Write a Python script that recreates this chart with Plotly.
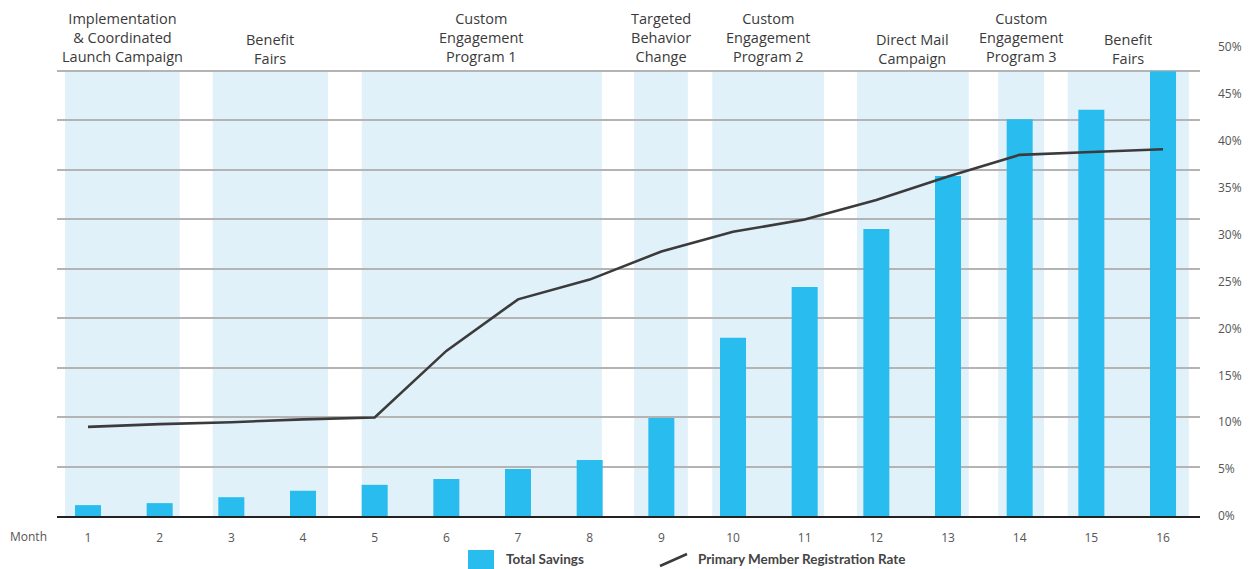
import plotly.graph_objects as go

# ---------------- data ----------------
months = list(range(1, 17))
month_labels = [str(m) for m in months]

# Total Savings (relative units, one unit = one gridline step)
total_savings = [0.22, 0.26, 0.38, 0.51, 0.63, 0.75, 0.95, 1.13,
                 1.98, 3.60, 4.63, 5.80, 6.87, 8.02, 8.21, 8.99]

# Primary Member Registration Rate (%)
registration_rate = [9.5, 9.8, 10.0, 10.3, 10.5, 17.6, 23.1, 25.2,
                     28.2, 30.3, 31.6, 33.7, 36.2, 38.5, 38.8, 39.1]

# Program phases (label, start month, end month)
phase_labels = [
    "Implementation<br>& Coordinated<br>Launch Campaign",
    "Benefit<br>Fairs",
    "Custom<br>Engagement<br>Program 1",
    "Targeted<br>Behavior<br>Change",
    "Custom<br>Engagement<br>Program 2",
    "Direct Mail<br>Campaign",
    "Custom<br>Engagement<br>Program 3",
    "Benefit<br>Fairs",
]
phase_start = [0.68, 2.74, 4.82, 8.62, 9.71, 11.73, 13.70, 14.67]
phase_end = [2.28, 4.35, 8.17, 9.37, 11.27, 13.29, 14.34, 16.36]

rate_ticks = [0, 5, 10, 15, 20, 25, 30, 35, 40, 45, 50]
rate_tick_labels = [f"{v}%" for v in rate_ticks]
grid_top = 9

series_names = ["Total Savings", "Primary Member Registration Rate"]

# ---------------- styles ----------------
BAR_COLOR = "#29bcee"
LINE_COLOR = "#3b3b3b"
BAND_COLOR = "#e1f1fa"
GRID_COLOR = "#b4b4b4"
TEXT_COLOR = "#444444"
FONT = "Open Sans"

W, H = 1242, 561
ML, MR, MT, MB = 49, 50, 39, 53
PW, PH = W - ML - MR, H - MT - MB


def px_to_paper_x(px):
    return (px - ML) / PW


def px_to_paper_y(py):
    return (H - MB - py) / PH


fig = go.Figure()

fig.add_trace(go.Bar(
    x=months, y=total_savings, name=series_names[0],
    marker=dict(color=BAR_COLOR, line=dict(width=0)),
    width=0.363, yaxis="y",
))

fig.add_trace(go.Scatter(
    x=months, y=registration_rate, name=series_names[1],
    mode="lines", line=dict(color=LINE_COLOR, width=2.6), yaxis="y2",
))

for lab, x0, x1 in zip(phase_labels, phase_start, phase_end):
    fig.add_shape(type="rect", xref="x", yref="y", x0=x0, x1=x1, y0=0, y1=grid_top,
                  fillcolor=BAND_COLOR, line=dict(width=0), layer="below")
    n_lines = lab.count("<br>") + 1
    fig.add_annotation(x=(x0 + x1) / 2, y=grid_top, xref="x", yref="y",
                       text=lab, showarrow=False, yanchor="bottom",
                       yshift=3 if n_lines == 3 else 1,
                       font=dict(family=FONT, size=14.5, color="#3a3a3a"), align="center")

fig.add_annotation(x=px_to_paper_x(20), y=px_to_paper_y(528), xref="paper", yref="paper",
                   text="Month", showarrow=False, xanchor="center", yanchor="middle",
                   font=dict(family=FONT, size=12, color="#555555"))

# custom legend (drawn in paper space)
fig.add_shape(type="rect", xref="paper", yref="paper",
              x0=px_to_paper_x(460), x1=px_to_paper_x(486),
              y0=px_to_paper_y(542), y1=px_to_paper_y(562),
              fillcolor=BAR_COLOR, line=dict(width=0))
fig.add_annotation(x=px_to_paper_x(496), y=px_to_paper_y(551), xref="paper", yref="paper",
                   text="<b>" + series_names[0] + "</b>", showarrow=False,
                   xanchor="left", yanchor="middle",
                   font=dict(family="Lato", size=13.5, color=TEXT_COLOR))
fig.add_shape(type="line", xref="paper", yref="paper",
              x0=px_to_paper_x(652), x1=px_to_paper_x(679),
              y0=px_to_paper_y(558), y1=px_to_paper_y(546),
              line=dict(color=LINE_COLOR, width=2.6))
fig.add_annotation(x=px_to_paper_x(688), y=px_to_paper_y(551), xref="paper", yref="paper",
                   text="<b>" + series_names[1] + "</b>", showarrow=False,
                   xanchor="left", yanchor="middle",
                   font=dict(family="Lato", size=13.5, color=TEXT_COLOR))

fig.update_layout(
    width=W, height=H,
    margin=dict(l=ML, r=MR, t=MT, b=MB, autoexpand=False),
    plot_bgcolor="white", paper_bgcolor="white",
    showlegend=False,
    xaxis=dict(range=[0.5675, 16.516], tickvals=months, ticktext=month_labels,
               showgrid=False, zeroline=False, showline=True, linecolor="#222222",
               linewidth=2, ticks="", ticklabelstandoff=10, automargin=False,
               tickfont=dict(family=FONT, size=12, color="#555555")),
    yaxis=dict(range=[0, 9.478], dtick=1, showticklabels=False, showgrid=True,
               gridcolor=GRID_COLOR, gridwidth=1.5, zeroline=False, showline=False,
               automargin=False),
    yaxis2=dict(range=[0, 50], overlaying="y", side="right", tickvals=rate_ticks,
                ticktext=rate_tick_labels, showgrid=False, zeroline=False, showline=False,
                ticks="", ticklabelstandoff=17, automargin=False,
                tickfont=dict(family=FONT, size=12, color="#555555")),
)

fig.write_html("out.html")
